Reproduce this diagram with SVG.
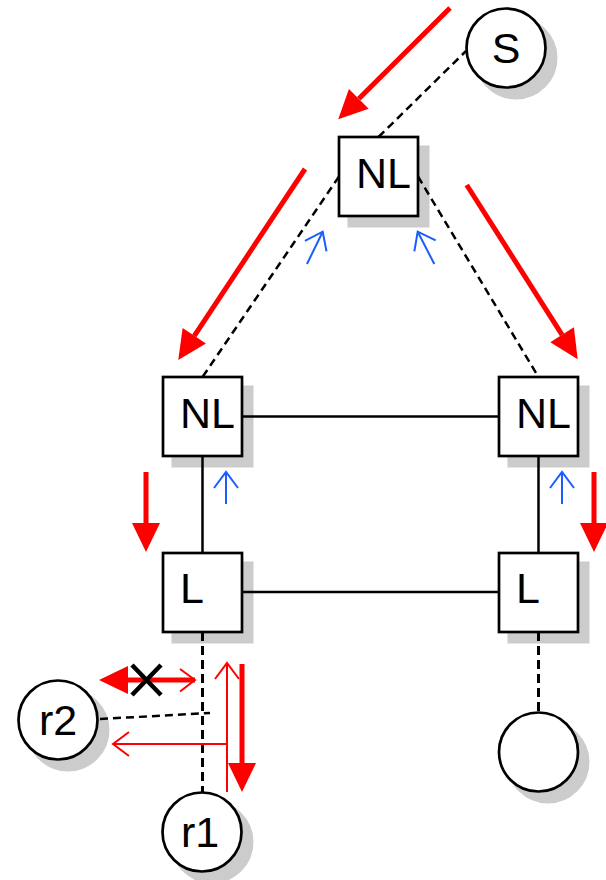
<svg xmlns="http://www.w3.org/2000/svg" width="606" height="880" viewBox="0 0 606 880">
  <style>
    .box { fill: #ffffff; stroke: #000000; stroke-width: 2.7; }
    .shadow { fill: #cccccc; stroke: #cccccc; stroke-width: 3; }
    .lbl { font-family: "Liberation Sans", Arial, sans-serif; font-size: 43px; fill: #000000; }
    .mid { text-anchor: middle; }
    .solid { fill: none; stroke: #000000; stroke-width: 2.5; }
    .dash { fill: none; stroke: #000000; stroke-width: 2.5; stroke-dasharray: 8 5; }
    .dash3 { fill: none; stroke: #000000; stroke-width: 3; stroke-dasharray: 9 5; }
    .flow { fill: none; stroke: #ff0000; stroke-width: 5; marker-end: url(#redHead); }
    .thinRed { fill: none; stroke: #ff0000; stroke-width: 2; marker-end: url(#redOpen); }
    .ack { fill: none; stroke: #1a5cff; stroke-width: 2; marker-end: url(#blueOpen); }
  </style>
  <defs>
    <marker id="redHead" markerUnits="userSpaceOnUse" markerWidth="30" markerHeight="30" refX="0" refY="0" orient="auto" overflow="visible">
      <path d="M0,-14 L29,0 L0,14 Z" fill="#ff0000"/>
    </marker>
    <marker id="redOpen" markerUnits="userSpaceOnUse" markerWidth="20" markerHeight="30" refX="0" refY="0" orient="auto" overflow="visible">
      <path d="M-16,-12 L0,0 L-16,12" fill="none" stroke="#ff0000" stroke-width="2"/>
    </marker>
    <marker id="blueOpen" markerUnits="userSpaceOnUse" markerWidth="20" markerHeight="30" refX="0" refY="0" orient="auto" overflow="visible">
      <path d="M-16,-12 L0,0 L-16,12" fill="none" stroke="#1a5cff" stroke-width="2"/>
    </marker>
  </defs>

  <!-- drop shadows sit underneath everything else -->
  <g id="shadows">
    <circle class="shadow" cx="516" cy="58" r="40"/>
    <rect class="shadow" x="349" y="147" width="79" height="79"/>
    <rect class="shadow" x="173" y="387" width="79" height="79"/>
    <rect class="shadow" x="509" y="387" width="79" height="79"/>
    <rect class="shadow" x="173" y="563" width="79" height="79"/>
    <rect class="shadow" x="509" y="563" width="79" height="79"/>
    <circle class="shadow" cx="68" cy="730" r="40"/>
    <circle class="shadow" cx="212" cy="842" r="40"/>
    <circle class="shadow" cx="548" cy="762" r="40"/>
  </g>

  <!-- links between nodes -->
  <g id="connectors">
    <path class="dash" d="M378.5,137 L466,51"/>
    <path class="dash" d="M339,176.5 L202.5,377"/>
    <path class="dash" d="M418,176.5 L538.5,377"/>
    <path class="solid" d="M242,416.5 L499,416.5"/>
    <path class="solid" d="M242,592 L499,592"/>
    <path class="solid" d="M202.5,456 L202.5,553"/>
    <path class="solid" d="M538.5,456 L538.5,553"/>
    <path class="dash3" d="M202.5,632 L202.5,792"/>
    <path class="dash3" d="M538.5,632 L538.5,712"/>
    <path class="dash" d="M100,719 L210,713"/>
  </g>

  <!-- data flow (red) and acknowledgements (blue) -->
  <g id="flows">
    <path class="flow" d="M450,8 L358.8,98.8"/>
    <path class="flow" d="M305,169 L194.3,335.8"/>
    <path class="flow" d="M466.7,185 L562.1,334.8"/>
    <path class="flow" d="M146,472 L146,523"/>
    <path class="flow" d="M594,472 L594,523"/>
    <path class="flow" d="M242,664 L242,763"/>
    <path class="flow" d="M195,680 L128,680"/>
    <path d="M180,669 L195,680 L180,691.5" fill="none" stroke="#ff0000" stroke-width="2"/>
    <path class="thinRed" d="M227,792 L227,663"/>
    <path class="thinRed" d="M227,744 L113,744"/>
    <path d="M132,665 L161,695 M132,695 L161,665" stroke="#000000" stroke-width="4.5" fill="none"/>
    <path class="ack" d="M307,264 L322.7,231.7"/>
    <path class="ack" d="M434.3,264 L417.7,231.7"/>
    <path class="ack" d="M226,504 L226,472"/>
    <path class="ack" d="M562,504 L562,472"/>
  </g>

  <g id="node-S">
    <circle class="box" cx="506" cy="48" r="39.5"/>
    <text class="lbl mid" x="506" y="63">S</text>
  </g>

  <g id="node-NL-top">
    <rect class="box" x="339" y="137" width="79" height="79"/>
    <text class="lbl" x="356" y="188">NL</text>
  </g>

  <g id="node-NL-left">
    <rect class="box" x="163" y="377" width="79" height="79"/>
    <text class="lbl" x="180" y="428">NL</text>
  </g>

  <g id="node-NL-right">
    <rect class="box" x="499" y="377" width="79" height="79"/>
    <text class="lbl" x="516" y="428">NL</text>
  </g>

  <g id="node-L-left">
    <rect class="box" x="163" y="553" width="79" height="79"/>
    <text class="lbl" x="180" y="603">L</text>
  </g>

  <g id="node-L-right">
    <rect class="box" x="499" y="553" width="79" height="79"/>
    <text class="lbl" x="516" y="603">L</text>
  </g>

  <g id="node-r2">
    <circle class="box" cx="58" cy="720" r="39.5"/>
    <text class="lbl mid" x="58" y="735">r2</text>
  </g>

  <g id="node-r1">
    <circle class="box" cx="202" cy="832" r="39.5"/>
    <text class="lbl mid" x="200" y="847">r1</text>
  </g>

  <g id="node-receiver">
    <circle class="box" cx="538.5" cy="752" r="39.5"/>
  </g>
</svg>
